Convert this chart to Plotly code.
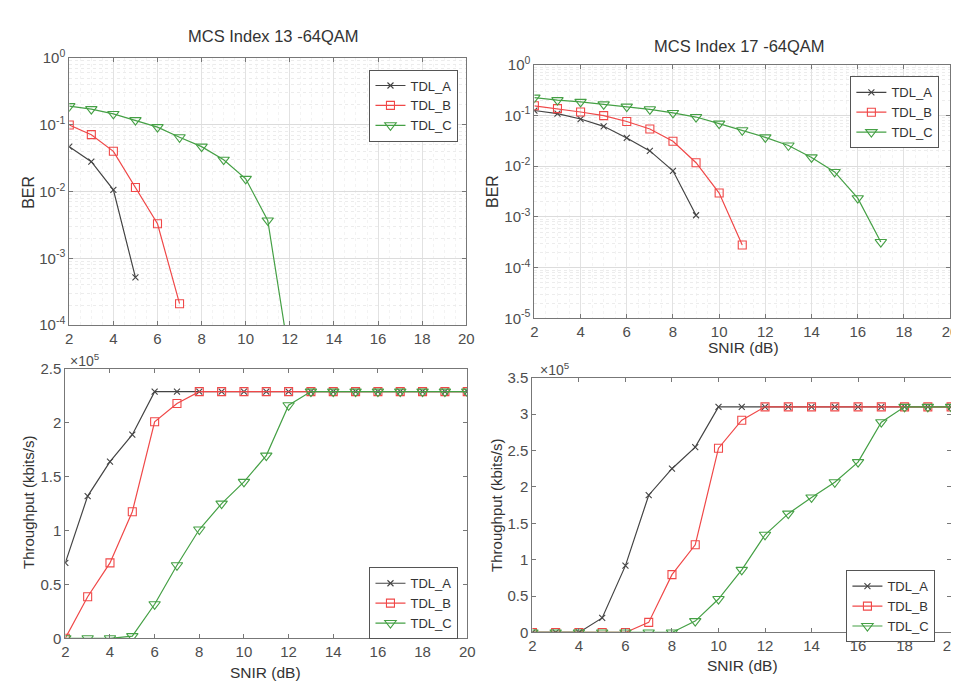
import plotly.graph_objects as go

# ---------------- data ----------------
snir = list(range(2, 21))

# MCS 13 BER
ber13_x_a = [2, 3, 4, 5]
ber13_a = [0.047, 0.028, 0.0106, 5.2e-4]
ber13_x_b = [2, 3, 4, 5, 6, 7]
ber13_b = [0.099, 0.071, 0.040, 0.0115, 0.0033, 2.1e-4]
ber13_x_c = [2, 3, 4, 5, 6, 7, 8, 9, 10, 11, 12]
ber13_c = [0.19, 0.171, 0.145, 0.117, 0.092, 0.065, 0.047, 0.030, 0.0155, 0.0037, 3.0e-5]

# MCS 17 BER
ber17_x_a = [2, 3, 4, 5, 6, 7, 8, 9]
ber17_a = [0.125, 0.109, 0.085, 0.061, 0.036, 0.020, 0.0081, 0.00108]
ber17_x_b = [2, 3, 4, 5, 6, 7, 8, 9, 10, 11]
ber17_b = [0.155, 0.136, 0.117, 0.099, 0.076, 0.054, 0.031, 0.0117, 0.00296, 2.8e-4]
ber17_x_c = [2, 3, 4, 5, 6, 7, 8, 9, 10, 11, 12, 13, 14, 15, 16, 17]
ber17_c = [0.224, 0.200, 0.185, 0.165, 0.149, 0.132, 0.112, 0.093, 0.069, 0.051,
           0.037, 0.0256, 0.0149, 0.0077, 0.00234, 3.2e-4]

# Throughput (x 10^5 kbits/s), SNIR 2..20
tp13_a = [0.70, 1.32, 1.64, 1.89, 2.29, 2.29, 2.29, 2.29, 2.29, 2.29, 2.29, 2.29, 2.29, 2.29, 2.29, 2.29, 2.29, 2.29, 2.29]
tp13_b = [0.0, 0.386, 0.70, 1.175, 2.01, 2.18, 2.29, 2.29, 2.29, 2.29, 2.29, 2.29, 2.29, 2.29, 2.29, 2.29, 2.29, 2.29, 2.29]
tp13_c = [0.0, 0.0, 0.0, 0.02, 0.316, 0.678, 1.01, 1.25, 1.452, 1.696, 2.163, 2.29, 2.29, 2.29, 2.29, 2.29, 2.29, 2.29, 2.29]

tp17_a = [0.0, 0.0, 0.0, 0.20, 0.918, 1.886, 2.25, 2.546, 3.10, 3.10, 3.10, 3.10, 3.10, 3.10, 3.10, 3.10, 3.10, 3.10, 3.10]
tp17_b = [0.0, 0.0, 0.0, 0.0, 0.0, 0.138, 0.794, 1.204, 2.532, 2.916, 3.10, 3.10, 3.10, 3.10, 3.10, 3.10, 3.10, 3.10, 3.10]
tp17_c = [0.0, 0.0, 0.0, 0.0, 0.0, 0.0, 0.0, 0.156, 0.459, 0.86, 1.342, 1.632, 1.855, 2.064, 2.34, 2.889, 3.10, 3.10, 3.10]

series_names = ["TDL_A", "TDL_B", "TDL_C"]
x_ticks = [2, 4, 6, 8, 10, 12, 14, 16, 18, 20]
ber13_ticks = [1, 0.1, 0.01, 0.001, 0.0001]
ber13_ticktext = ["10<sup>0</sup>", "10<sup>-1</sup>", "10<sup>-2</sup>", "10<sup>-3</sup>", "10<sup>-4</sup>"]
ber17_ticks = [1, 0.1, 0.01, 0.001, 0.0001, 0.00001]
ber17_ticktext = ["10<sup>0</sup>", "10<sup>-1</sup>", "10<sup>-2</sup>", "10<sup>-3</sup>", "10<sup>-4</sup>", "10<sup>-5</sup>"]
tp13_ticks = [0, 0.5, 1, 1.5, 2, 2.5]
tp17_ticks = [0, 0.5, 1, 1.5, 2, 2.5, 3, 3.5]

# ---------------- style ----------------
W, H = 959, 683
colors = ["#444444", "#f04848", "#45a045"]
symbols = ["x-thin-open", "square-open", "triangle-down-open"]
msizes = [6, 8, 10]
FONT = "Liberation Sans, Arial, sans-serif"
TICKC = "#4d4d4d"
AXC = "#777777"


def px_dom_x(a, b):
    return [a / W, b / W]


def px_dom_y(top, bottom):
    return [1 - bottom / H, 1 - top / H]


fig = go.Figure()

panels = [
    ("x", "y", "legend"),
    ("x2", "y2", "legend2"),
    ("x3", "y3", "legend3"),
    ("x4", "y4", "legend4"),
]

data_sets = [
    [(ber13_x_a, ber13_a), (ber13_x_b, ber13_b), (ber13_x_c, ber13_c)],
    [(ber17_x_a, ber17_a), (ber17_x_b, ber17_b), (ber17_x_c, ber17_c)],
    [(snir, tp13_a), (snir, tp13_b), (snir, tp13_c)],
    [(snir, tp17_a), (snir, tp17_b), (snir, tp17_c)],
]

for (xa, ya, lg), ds in zip(panels, data_sets):
    for i, (xs, ys) in enumerate(ds):
        fig.add_trace(go.Scatter(
            x=xs, y=ys, name=series_names[i], mode="lines+markers",
            line=dict(color=colors[i], width=1.2),
            marker=dict(symbol=symbols[i], size=msizes[i], color=colors[i],
                        line=dict(color=colors[i], width=1.1)),
            xaxis=xa, yaxis=ya, legend=lg, cliponaxis=True,
        ))

common_ax = dict(
    showline=True, linecolor=AXC, linewidth=1, mirror="ticks",
    ticks="inside", ticklen=4, tickcolor=AXC, zeroline=False,
    tickfont=dict(family=FONT, size=15, color=TICKC),
)

xgrid = dict(showgrid=True, gridcolor="#e2e2e2", gridwidth=1,
             minor=dict(dtick=0.5, showgrid=True, gridcolor="#f3f3f3", griddash="dot"))
ygrid_log = dict(showgrid=True, gridcolor="#dcdcdc", gridwidth=1,
                 minor=dict(tickmode="linear", dtick="D1", showgrid=True,
                            gridcolor="#ececec", griddash="dot", ticks=""))

fig.update_layout(
    width=W, height=H,
    margin=dict(l=0, r=0, t=0, b=0),
    paper_bgcolor="white", plot_bgcolor="white",
    font=dict(family=FONT, size=12, color="#333333"),
    showlegend=True,
    xaxis=dict(domain=px_dom_x(58, 460), range=[2, 20], tickvals=x_ticks,
               anchor="y", **common_ax, **xgrid),
    yaxis=dict(domain=px_dom_y(40, 315), type="log", range=[-4, 0],
               tickvals=ber13_ticks, ticktext=ber13_ticktext,
               anchor="x", **common_ax, **ygrid_log),
    xaxis2=dict(domain=px_dom_x(529, 950), range=[2, 20], tickvals=x_ticks,
                anchor="y2", **common_ax, **xgrid),
    yaxis2=dict(domain=px_dom_y(47, 308), type="log", range=[-5, 0],
                tickvals=ber17_ticks, ticktext=ber17_ticktext,
                anchor="x2", **common_ax, **ygrid_log),
    xaxis3=dict(domain=px_dom_x(54, 461), range=[2, 20], tickvals=x_ticks,
                anchor="y3", showgrid=False, **common_ax),
    yaxis3=dict(domain=px_dom_y(360, 637), range=[0, 2.5], tickvals=tp13_ticks,
                anchor="x3", showgrid=False, **common_ax),
    xaxis4=dict(domain=px_dom_x(527, 951), range=[2, 20], tickvals=x_ticks,
                anchor="y4", showgrid=False, **common_ax),
    yaxis4=dict(domain=px_dom_y(369, 631), range=[0, 3.5], tickvals=tp17_ticks,
                anchor="x4", showgrid=False, **common_ax),
)

leg_common = dict(bgcolor="white", bordercolor="#555555", borderwidth=1,
                  font=dict(family=FONT, size=13, color="#333333"),
                  xanchor="left", yanchor="top", tracegroupgap=0,
                  itemwidth=30)


def leg_pos(left, top):
    return dict(x=left / W, y=1 - top / H, **leg_common)


fig.update_layout(
    legend=leg_pos(362, 52),
    legend2=leg_pos(849, 59),
    legend3=leg_pos(362, 564),
    legend4=leg_pos(845, 567),
)

ann = []


def add_text(text, xpx, ypx, size=13, angle=0, color="#333333"):
    ann.append(dict(text=text, x=xpx / W, y=1 - ypx / H, xref="paper", yref="paper",
                    showarrow=False, textangle=angle, xanchor="center", yanchor="middle",
                    font=dict(family=FONT, size=size, color=color)))


add_text("MCS Index 13 -64QAM", 265, 17, size=16.5)
add_text("MCS Index 17 -64QAM", 737, 28, size=16.5)
add_text("BER", 16, 178, size=16, angle=-90)
add_text("BER", 486, 177, size=16, angle=-90)
add_text("Throughput (kbits/s)", 16, 497, size=15, angle=-90)
add_text("Throughput (kbits/s)", 490, 500, size=15, angle=-90)
add_text("SNIR (dB)", 741, 338, size=15.5)
add_text("SNIR (dB)", 257, 672, size=15.5)
add_text("SNIR (dB)", 740, 665, size=15.5)
add_text("×10<sup>5</sup>", 74, 351, size=14, color=TICKC)
add_text("×10<sup>5</sup>", 550, 360, size=14, color=TICKC)

fig.update_layout(annotations=ann)

fig.write_html("out.html")
